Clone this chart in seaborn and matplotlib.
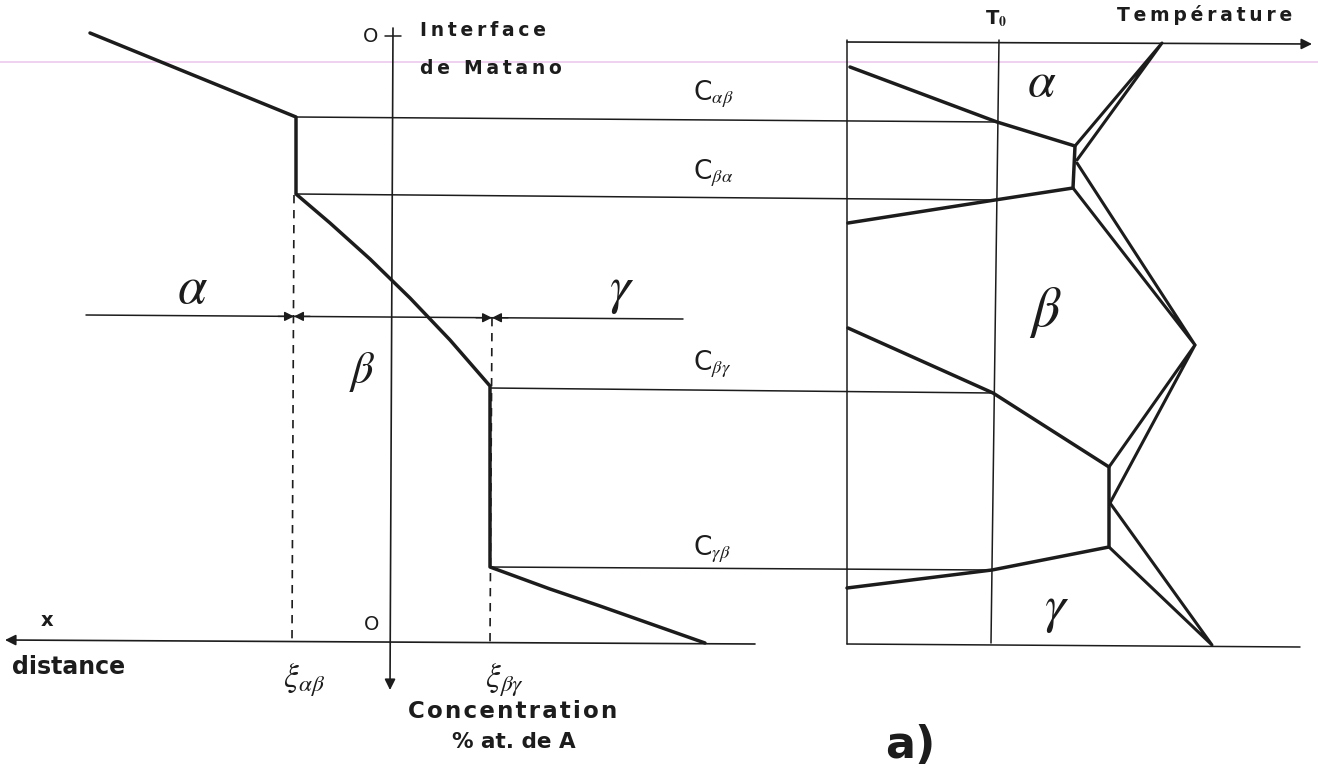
import matplotlib
matplotlib.use("Agg")
import pandas as pd
import matplotlib.pyplot as plt
import seaborn as sns

# everything is laid out in the pixel frame of the original scan (y grows downward)
W, H = 1318, 782

# left panel: concentration profile through the diffusion couple
profile_x = [90, 296, 296, 330, 370, 410, 450, 490, 490, 550, 600, 705]
profile_y = [33, 117, 194, 223, 259, 298, 340, 386, 567, 589, 606, 643]

# tie lines carrying the interface concentrations to the T0 isotherm
tie_x0 = [296, 296, 490, 490]
tie_y0 = [117, 194, 388, 567]
tie_x1 = [997, 995, 993, 991]
tie_y1 = [122, 200, 393, 570]
tie_labels = [r"C$_{\alpha\beta}$", r"C$_{\beta\alpha}$", r"C$_{\beta\gamma}$", r"C$_{\gamma\beta}$"]
tie_label_base = [100, 179, 370, 555]

# interface positions xi_ab and xi_bg
xi_x = [294, 492]
xi_top = [195, 318]
xi_bottom = [641, 643]
xi_labels = [r"$\xi_{\alpha\beta}$", r"$\xi_{\beta\gamma}$"]
xi_label_x = [304, 505]

# phase band line with the alpha | beta | gamma regions
band_x = [86, 683]
band_y = [315, 319]

# right panel: phase diagram boundaries (concentration vs temperature)
alpha_x = [850, 997, 1075, 1073, 995, 848]
alpha_y = [67, 122, 146, 188, 200, 223]
gamma_x = [848, 993, 1109, 1109, 992, 847]
gamma_y = [328, 393, 467, 547, 570, 588]
wedge_top_x = [1077, 1162, 1075]
wedge_top_y = [160, 43, 146]
wedge_b1_x = [1077, 1195, 1073]
wedge_b1_y = [163, 345, 188]
wedge_b2_x = [1109, 1195, 1110]
wedge_b2_y = [467, 345, 503]
wedge_bot_x = [1110, 1212, 1109]
wedge_bot_y = [503, 645, 547]

# frame of the phase diagram
box_left_x = [847, 847]
box_left_y = [40, 644]
box_bottom_x = [847, 1300]
box_bottom_y = [644, 647]
t0_x = [999, 991]
t0_y = [40, 643]


def spaced(s, gap="\u2009"):
    # the scanned lettering is tracked out
    return gap.join(s)


def seg_frame(polylines):
    rows = []
    for k, (xs, ys) in enumerate(polylines):
        for i, (x, y) in enumerate(zip(xs, ys)):
            rows.append((k, i, x, y))
    return pd.DataFrame(rows, columns=["seg", "order", "x", "y"])


sns.set_theme(style="white")
plt.rcParams["font.family"] = ["DejaVu Sans"]
plt.rcParams["mathtext.fontset"] = "stix"

fig = plt.figure(figsize=(W / 100, H / 100), dpi=100)
ax = fig.add_axes([0, 0, 1, 1])
ax.set_xlim(0, W)
ax.set_ylim(H, 0)
ax.axis("off")

ink = "#1c1c1c"

# faint ruler line present on the scan
ax.axhline(62, color="#ecc8ee", lw=1.2, zorder=0)

# thin construction lines
thin = [(band_x, band_y), (box_left_x, box_left_y), (box_bottom_x, box_bottom_y), (t0_x, t0_y)]
thin += [([a, b], [c, d]) for a, c, b, d in zip(tie_x0, tie_y0, tie_x1, tie_y1)]
sns.lineplot(data=seg_frame(thin), x="x", y="y", units="seg", estimator=None,
             sort=False, color=ink, lw=1.1, legend=False, ax=ax)

# dashed interface markers
for x, y0, y1 in zip(xi_x, xi_top, xi_bottom):
    ax.plot([x, x - 2], [y0, y1], color=ink, lw=1.2, ls=(0, (5, 4)))

# heavy curves
heavy = [(profile_x, profile_y), (alpha_x, alpha_y), (gamma_x, gamma_y)]
sns.lineplot(data=seg_frame(heavy), x="x", y="y", units="seg", estimator=None,
             sort=False, color=ink, lw=2.5, legend=False, ax=ax,
             solid_joinstyle="round")
wedges = [(wedge_top_x, wedge_top_y), (wedge_b1_x, wedge_b1_y),
          (wedge_b2_x, wedge_b2_y), (wedge_bot_x, wedge_bot_y)]
sns.lineplot(data=seg_frame(wedges), x="x", y="y", units="seg", estimator=None,
             sort=False, color=ink, lw=2.2, legend=False, ax=ax)

# axes with arrow heads
arr = dict(arrowstyle="-|>", color=ink, lw=1.2, mutation_scale=16, shrinkA=0, shrinkB=0)
ax.annotate("", xy=(390, 690), xytext=(393, 28), arrowprops=arr)
ax.annotate("", xy=(5, 640), xytext=(755, 644), arrowprops=arr)
ax.annotate("", xy=(1312, 44), xytext=(847, 42), arrowprops=arr)
ax.plot([385, 401], [36, 36], color=ink, lw=1.1)

# small converging arrows on the phase band at each interface
tick = dict(arrowstyle="-|>", color=ink, lw=1.0, mutation_scale=14, shrinkA=0, shrinkB=0)
for x in xi_x:
    yb = 315 + (x - 86) * 4 / 597
    ax.annotate("", xy=(x, yb), xytext=(x - 16, yb), arrowprops=tick)
    ax.annotate("", xy=(x, yb), xytext=(x + 16, yb), arrowprops=tick)

# labels
bold = dict(fontweight="bold", color=ink)
ax.text(420, 31, spaced("Interface"), fontsize=13.5, ha="left", va="center", **bold)
ax.text(420, 68, spaced("de Matano"), fontsize=13.5, ha="left", va="center", **bold)
ax.text(1205, 15, spaced("Température"), fontsize=13.5, ha="center", va="center", **bold)
ax.text(371, 37, "O", fontsize=14, ha="center", va="center", color=ink)
ax.text(372, 625, "O", fontsize=14, ha="center", va="center", color=ink)
ax.text(47, 621, "x", fontsize=14, ha="center", va="center", **bold)
ax.text(12, 667, "distance", fontsize=17, ha="left", va="center", **bold)
ax.text(513, 711, spaced("Concentration", "\u200a"), fontsize=16.5, ha="center", va="center", **bold)
ax.text(514, 742, "% at. de A", fontsize=15.5, ha="center", va="center", **bold)
ax.text(996, 19, r"T$_{\mathbf{0}}$", fontsize=14, ha="center", va="center", **bold)
ax.text(910, 745, "a)", fontsize=32, ha="center", va="center", **bold)

for lab, yb in zip(tie_labels, tie_label_base):
    ax.text(693, yb, lab, fontsize=19, ha="left", va="baseline", color=ink)
for lab, x in zip(xi_labels, xi_label_x):
    ax.text(x, 680, lab, fontsize=24, ha="center", va="center", color=ink)

greek = [(r"$\alpha$", 192, 288, 38), (r"$\beta$", 362, 372, 32), (r"$\gamma$", 622, 290, 38),
         (r"$\alpha$", 1042, 82, 36), (r"$\beta$", 1045, 312, 40), (r"$\gamma$", 1057, 609, 38)]
for g, x, y, fs in greek:
    ax.text(x, y, g, fontsize=fs, ha="center", va="center", color=ink)

fig.savefig("out.png", dpi=100, facecolor="white")
